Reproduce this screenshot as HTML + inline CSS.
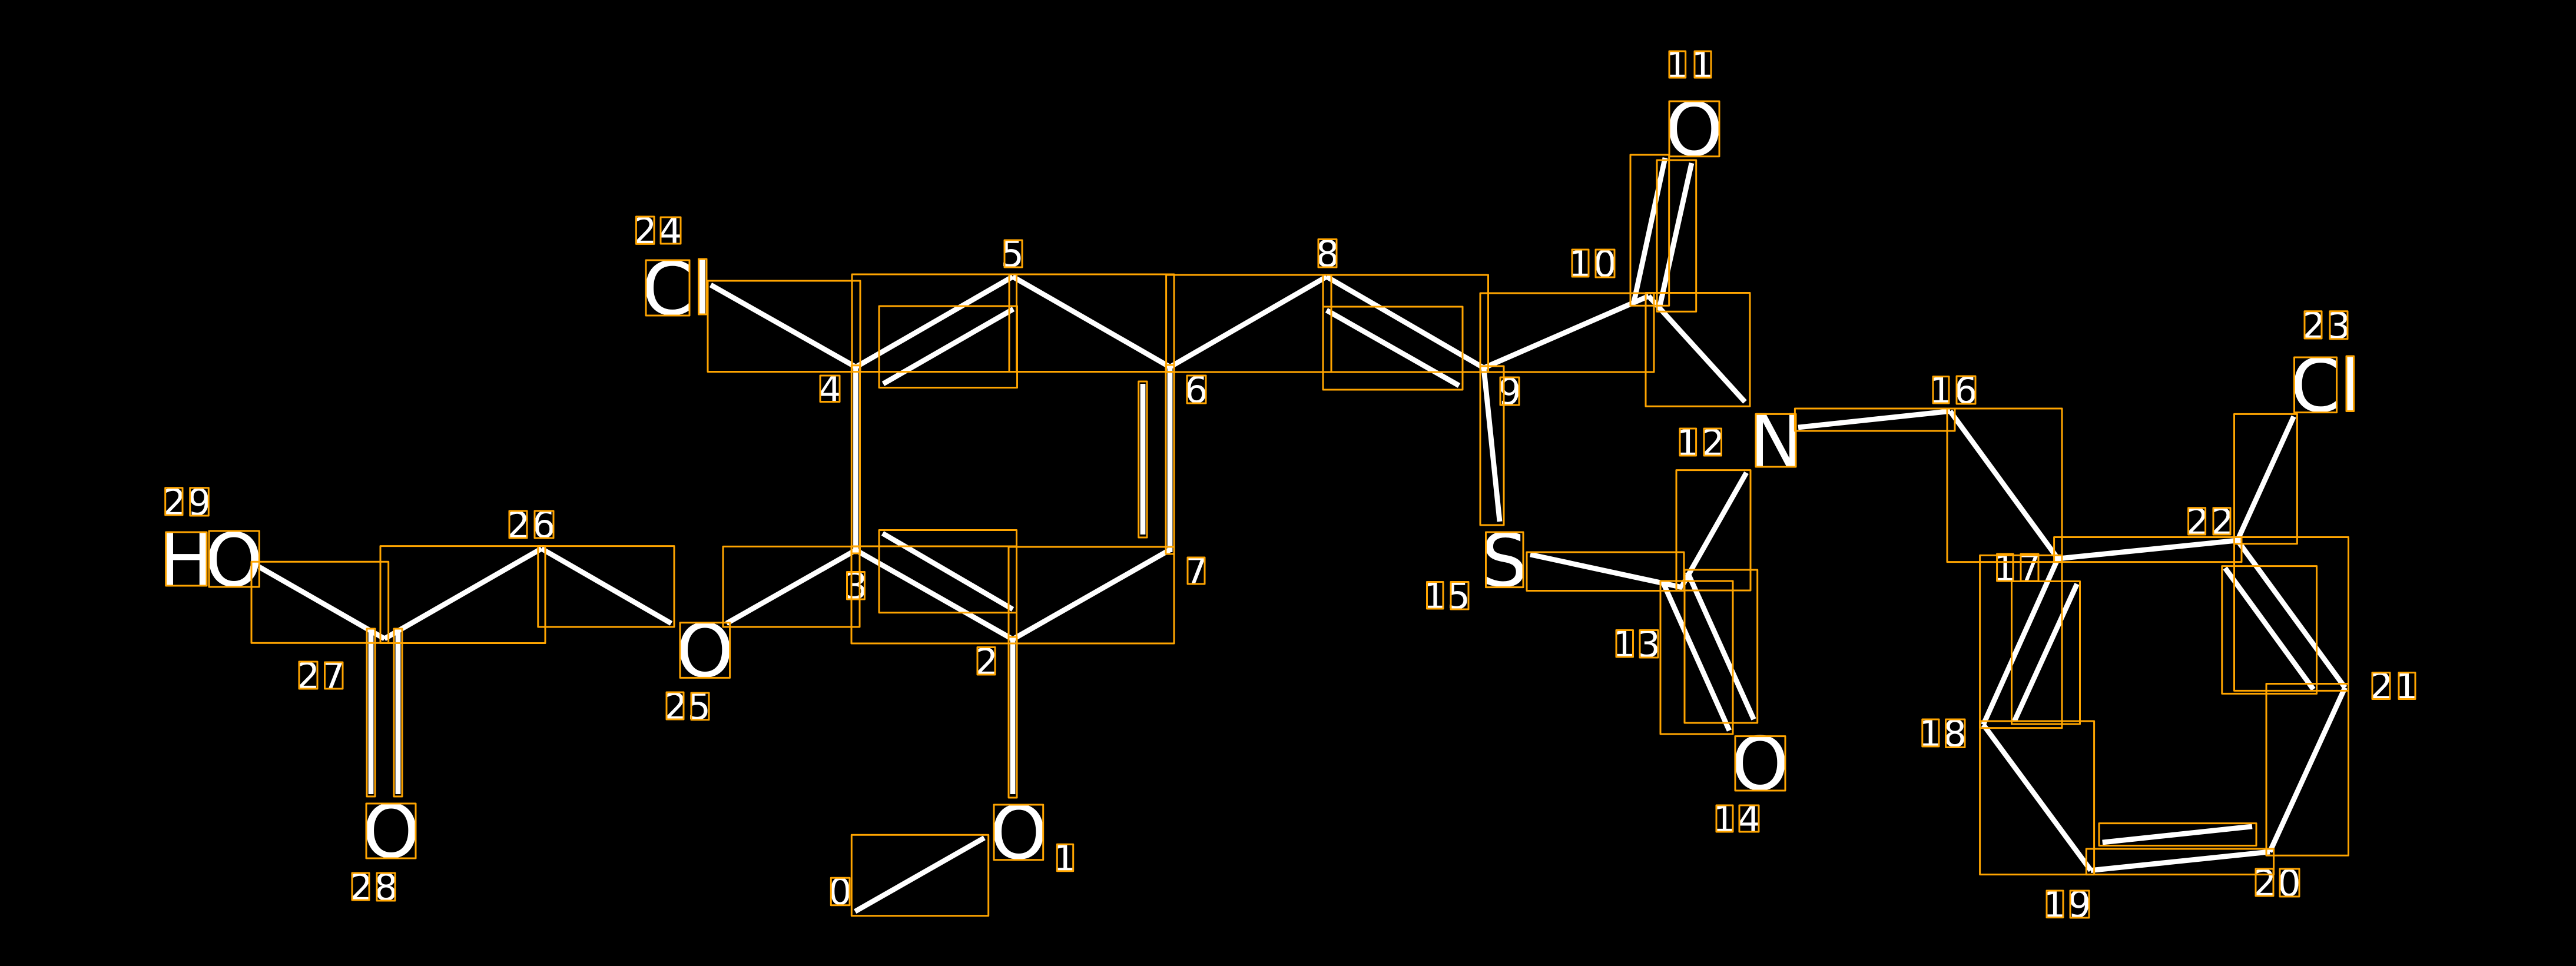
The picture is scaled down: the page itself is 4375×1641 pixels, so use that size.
<!DOCTYPE html>
<html><head><meta charset="utf-8"><style>html,body{margin:0;padding:0;background:#000}svg{display:block}text{font-family:"DejaVu Sans",sans-serif;fill:#fff}.b{font-size:125px}.s{font-size:62.5px}</style></head><body>
<svg xmlns="http://www.w3.org/2000/svg" width="4375" height="1641" viewBox="0 0 4375 1641">
<rect width="4375" height="1641" fill="#000"/>
<g stroke="#fff" stroke-width="8.8" fill="none">
<path d="M1452.3 1548.3L1671.7 1423.3"/>
<path d="M1720 1082V1349"/>
<path d="M1453.5 934.5L1720 1086"/>
<path d="M1499 906L1720 1035"/>
<path d="M1720 1086L1986 934.5"/>
<path d="M1987 623V938"/>
<path d="M1941 652V908"/>
<path d="M1453.5 623V938"/>
<path d="M1453.5 623.5L1720 470"/>
<path d="M1500 652L1721 525"/>
<path d="M1720 470L1987 623.5"/>
<path d="M1987 623.5L2253 470"/>
<path d="M2253 470L2520 625"/>
<path d="M2253 527L2478 655"/>
<path d="M2520 625L2800 503"/>
<path d="M2828 268L2775 513"/>
<path d="M2873 277L2819 520"/>
<path d="M2800 503L2963.5 682.7"/>
<path d="M2520 625L2547 886"/>
<path d="M2599 942L2858 998"/>
<path d="M2966 803L2857 995"/>
<path d="M2826 993L2937 1241"/>
<path d="M2866 972L2978.5 1222"/>
<path d="M3054 726L3312 698.5"/>
<path d="M3312 698.5L3495 949"/>
<path d="M3495 949L3800 918"/>
<path d="M3495 949L3368.4 1231"/>
<path d="M3527.5 992L3421.4 1224.7"/>
<path d="M3368.4 1231L3551 1478.6"/>
<path d="M3551 1478.6L3855 1447"/>
<path d="M3570.7 1431L3825 1404"/>
<path d="M3855 1447L3982.7 1168"/>
<path d="M3800 918L3982.7 1168"/>
<path d="M3779 965L3929 1171"/>
<path d="M3800 918L3895.6 707.6"/>
<path d="M1207 484L1453.5 623.5"/>
<path d="M1453.5 934.5L1234 1059"/>
<path d="M1140 1059L919.6 932"/>
<path d="M919.6 932L653 1085"/>
<path d="M653 1085L440 963"/>
<path d="M630 1071V1349"/>
<path d="M676 1071V1349"/>
</g>
<text class="b" x="1681" y="1458">O</text>
<text class="b" x="615" y="1456">O</text>
<text class="b" x="1148" y="1149">O</text>
<text class="b" x="269.4" y="995">H</text>
<text class="b" x="348" y="995">O</text>
<text class="b" x="1090" y="534">C</text>
<text class="b" x="1174.7" y="534">l</text>
<text class="b" x="2828" y="263.5">O</text>
<text class="b" x="2515.3" y="995.5">S</text>
<text class="b" x="2940" y="1341">O</text>
<text class="b" x="2969.7" y="793">N</text>
<text class="b" x="3889.5" y="698.5">C</text>
<text class="b" x="3973.2" y="698.5">l</text>
<text class="s" x="1407" y="1536.5">0</text>
<text class="s" x="1788.4" y="1479.5">1</text>
<text class="s" x="1655.4" y="1146">2</text>
<text class="s" x="1433.7" y="1017">3</text>
<text class="s" x="1390" y="683">4</text>
<text class="s" x="1699.2" y="453">5</text>
<text class="s" x="2011.6" y="684">6</text>
<text class="s" x="2011.9" y="992">7</text>
<text class="s" x="2234.7" y="453">8</text>
<text class="s" x="2544" y="687">9</text>
<text class="s" x="2663.1" y="470">1</text><text class="s" x="2706" y="470">0</text>
<text class="s" x="2828.1" y="132">1</text><text class="s" x="2871.1" y="132">1</text>
<text class="s" x="2846.1" y="774">1</text><text class="s" x="2889.4" y="774">2</text>
<text class="s" x="2738.1" y="1116">1</text><text class="s" x="2780.2" y="1116">3</text>
<text class="s" x="2908.1" y="1413">1</text><text class="s" x="2950.9" y="1413">4</text>
<text class="s" x="2416.6" y="1034">1</text><text class="s" x="2457.2" y="1034">5</text>
<text class="s" x="3276.1" y="685">1</text><text class="s" x="3318.6" y="685">6</text>
<text class="s" x="3384.7" y="987">1</text><text class="s" x="3426.9" y="987">7</text>
<text class="s" x="3257.9" y="1268">1</text><text class="s" x="3300.3" y="1268">8</text>
<text class="s" x="3469.1" y="1558.5">1</text><text class="s" x="3511.9" y="1558">9</text>
<text class="s" x="3826.4" y="1522">2</text><text class="s" x="3867.9" y="1522">0</text>
<text class="s" x="4024.4" y="1187.5">2</text><text class="s" x="4067.1" y="1187.5">1</text>
<text class="s" x="3712" y="908">2</text><text class="s" x="3754.4" y="908">2</text>
<text class="s" x="3909.4" y="575">2</text><text class="s" x="3952.2" y="575">3</text>
<text class="s" x="1075.8" y="414">2</text><text class="s" x="1118.9" y="414">4</text>
<text class="s" x="1127.4" y="1222">2</text><text class="s" x="1167.2" y="1222">5</text>
<text class="s" x="860.4" y="914">2</text><text class="s" x="903.6" y="913">6</text>
<text class="s" x="503.4" y="1170">2</text><text class="s" x="546.4" y="1170">7</text>
<text class="s" x="593.4" y="1529">2</text><text class="s" x="635.7" y="1529">8</text>
<text class="s" x="276.1" y="875">2</text><text class="s" x="318.6" y="875">9</text>
<g fill="none" stroke="#ffa500" stroke-width="3" stroke-linejoin="round">
<rect x="1446.3" y="1418.3" width="232.4" height="137.4"/>
<rect x="1688" y="1367" width="83.7" height="93.7"/>
<rect x="1411.3" y="1491.3" width="31.7" height="46.4"/>
<rect x="1795.3" y="1434.3" width="27.4" height="45.4"/>
<rect x="1713" y="1082" width="14" height="273"/>
<rect x="1446" y="928" width="280.5" height="165"/>
<rect x="1713" y="929" width="281" height="164"/>
<rect x="1493" y="900.5" width="233.5" height="140.2"/>
<rect x="1446.3" y="620.7" width="14.2" height="319.3"/>
<rect x="1980" y="620" width="14" height="321"/>
<rect x="1933.7" y="648" width="14.3" height="265"/>
<rect x="1447" y="466" width="279.5" height="165.5"/>
<rect x="1714" y="466" width="280" height="165.5"/>
<rect x="1493" y="520" width="234.5" height="138.5"/>
<rect x="1980.6" y="467" width="280.4" height="165"/>
<rect x="2247" y="467" width="280.5" height="165"/>
<rect x="2247" y="521" width="237" height="141"/>
<rect x="2514" y="498" width="295" height="134"/>
<rect x="2514" y="622" width="40" height="270"/>
<rect x="2769" y="263" width="65.7" height="256.3"/>
<rect x="2814" y="272" width="66.7" height="257.3"/>
<rect x="2795" y="497.5" width="177" height="192.8"/>
<rect x="2593" y="938" width="267" height="65.5"/>
<rect x="2847" y="798.6" width="126" height="204.4"/>
<rect x="2820" y="987" width="123" height="260"/>
<rect x="2861" y="968" width="123.7" height="260"/>
<rect x="3048.4" y="694" width="271.6" height="38"/>
<rect x="3307" y="694" width="195" height="260.6"/>
<rect x="3488.6" y="912.5" width="318.4" height="42.1"/>
<rect x="3362.6" y="943.4" width="139.4" height="293.2"/>
<rect x="3416.5" y="987.5" width="116" height="242.5"/>
<rect x="3362.6" y="1225" width="194" height="260.6"/>
<rect x="3543.3" y="1442" width="318.3" height="43.6"/>
<rect x="3565" y="1398.6" width="267" height="37.9"/>
<rect x="3849" y="1161.5" width="139.5" height="291.8"/>
<rect x="3794.5" y="912.5" width="194" height="260.9"/>
<rect x="3773.8" y="961.6" width="160.8" height="216.8"/>
<rect x="3794.5" y="703.4" width="106.9" height="220.3"/>
<rect x="1202" y="477" width="259" height="154.5"/>
<rect x="1228" y="928.4" width="232" height="136.6"/>
<rect x="913.8" y="927.6" width="231.2" height="137.4"/>
<rect x="646" y="927.6" width="280" height="164.9"/>
<rect x="427" y="954.3" width="232.7" height="138"/>
<rect x="623" y="1068" width="14" height="285"/>
<rect x="669" y="1068" width="14" height="285"/>
<rect x="622" y="1365" width="84" height="93"/>
<rect x="1155" y="1057.7" width="84.6" height="93.7"/>
<rect x="281.7" y="904" width="69.3" height="91"/>
<rect x="355" y="902" width="85.3" height="95"/>
<rect x="1097" y="442" width="74" height="94"/>
<rect x="1186.5" y="440" width="13.5" height="94"/>
<rect x="2835" y="172" width="85" height="93.7"/>
<rect x="2523.5" y="904" width="63.5" height="93.6"/>
<rect x="2947" y="1250.6" width="85" height="92.4"/>
<rect x="2982" y="703.4" width="68" height="89.6"/>
<rect x="3896.5" y="607" width="72.1" height="93.6"/>
<rect x="3985" y="605" width="12.6" height="93.5"/>
<rect x="1660" y="1099.5" width="30" height="46.5"/>
<rect x="1438.5" y="971.5" width="29.9" height="46.5"/>
<rect x="1393" y="638" width="33" height="44.5"/>
<rect x="1706" y="408" width="30" height="46"/>
<rect x="2016" y="638" width="32" height="47"/>
<rect x="2017" y="947" width="29" height="45"/>
<rect x="2239" y="406.5" width="31" height="47.5"/>
<rect x="2548" y="641" width="32" height="47"/>
<rect x="2670" y="424" width="28" height="46"/><rect x="2710" y="424" width="32" height="47"/>
<rect x="2835" y="87" width="27.7" height="45"/><rect x="2878" y="87" width="28" height="45"/>
<rect x="2853" y="728" width="27.6" height="46"/><rect x="2894" y="728" width="29.5" height="46"/>
<rect x="2745" y="1070.5" width="28.5" height="45.5"/><rect x="2785" y="1070.5" width="31" height="46.5"/>
<rect x="2915" y="1368" width="28" height="45"/><rect x="2954" y="1368" width="33" height="45"/>
<rect x="2423.5" y="988.5" width="27.5" height="45.5"/><rect x="2464" y="988.5" width="30" height="46.5"/>
<rect x="3283" y="639.6" width="27" height="45.4"/><rect x="3323" y="639" width="32" height="47"/>
<rect x="3391.6" y="941" width="27.4" height="46"/><rect x="3432" y="941" width="30" height="46"/>
<rect x="3264.8" y="1222" width="28.2" height="46"/><rect x="3304.6" y="1222" width="32.4" height="47.5"/>
<rect x="3476" y="1513" width="28" height="45.6"/><rect x="3516" y="1513" width="32" height="46"/>
<rect x="3831" y="1476" width="30" height="46"/><rect x="3872" y="1476" width="33" height="47"/>
<rect x="4029" y="1142.6" width="30" height="44.9"/><rect x="4074" y="1142.6" width="28" height="44.9"/>
<rect x="3716.6" y="862.7" width="29" height="45.3"/><rect x="3759" y="862.7" width="29" height="45.3"/>
<rect x="3914" y="528.8" width="29" height="46.2"/><rect x="3957" y="528.8" width="30" height="47"/>
<rect x="1080.4" y="368" width="30.6" height="46.4"/><rect x="1122" y="369" width="34" height="45"/>
<rect x="1132" y="1176" width="29" height="46"/><rect x="1174" y="1177" width="30" height="45.7"/>
<rect x="865" y="868" width="30" height="46"/><rect x="908" y="868" width="32" height="46"/>
<rect x="508" y="1124" width="31" height="46"/><rect x="551.5" y="1125" width="30.5" height="45"/>
<rect x="598" y="1483" width="29" height="46"/><rect x="640" y="1483" width="31" height="47"/>
<rect x="280.7" y="828.7" width="29.3" height="46.3"/><rect x="322.7" y="828.7" width="31.6" height="47.3"/>
</g>
</svg>
</body></html>
